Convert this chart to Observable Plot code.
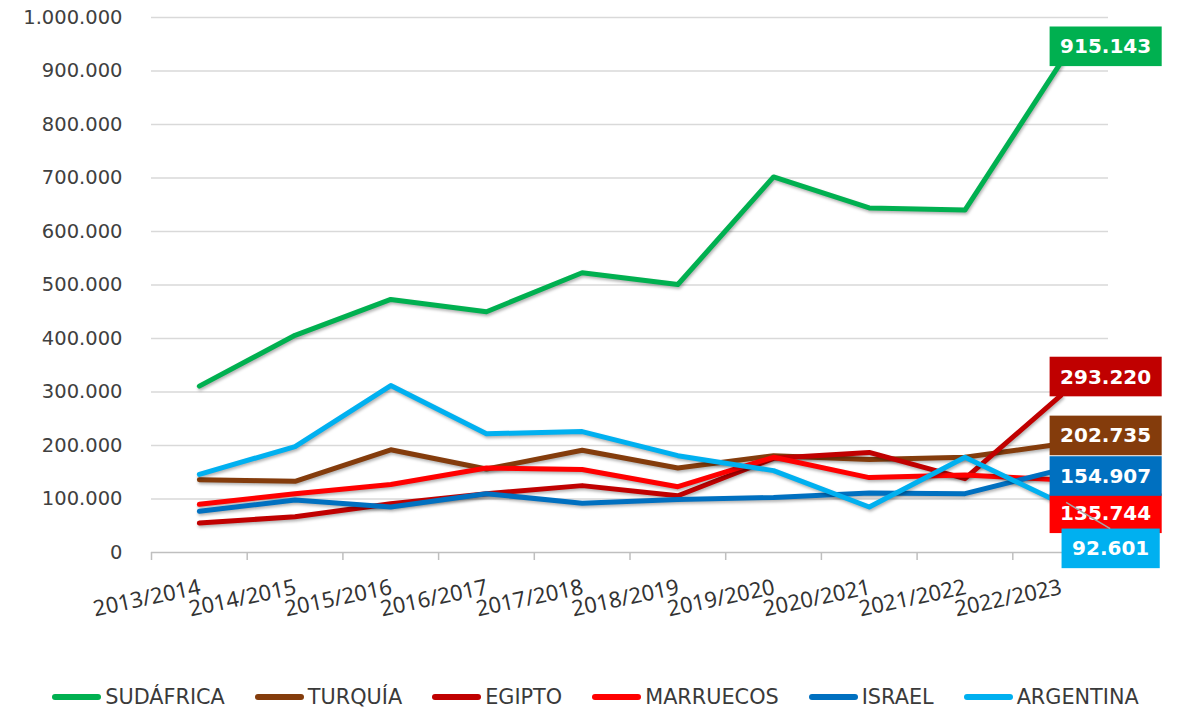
<!DOCTYPE html>
<html>
<head>
<meta charset="utf-8">
<script src="https://cdn.jsdelivr.net/npm/d3@7"></script>
<script src="https://cdn.jsdelivr.net/npm/@observablehq/plot@0.6"></script>
<style>
  html, body { margin: 0; padding: 0; background: #fff; }
  #wrap { position: relative; width: 1182px; height: 710px; overflow: hidden; }
  #legend {
    position: absolute; left: 0; top: 685px; width: 1182px; padding-left: 9px; box-sizing: border-box;
    display: flex; justify-content: center; align-items: center;
    font-family: "DejaVu Sans", sans-serif; font-size: 20.8px; color: #3a3a3a;
  }
  .item { display: flex; align-items: center; margin-right: 30px; }
  .item:last-child { margin-right: 0; }
  .sw { width: 49px; height: 6px; border-radius: 3px; margin-right: 4px; }
  g[aria-label="line"] path { filter: drop-shadow(1px 2px 1.5px rgba(0,0,0,0.3)); }
</style>
</head>
<body>
<div id="wrap"></div>
<script>
// ---- data ----
const categories = ["2013/2014","2014/2015","2015/2016","2016/2017","2017/2018","2018/2019","2019/2020","2020/2021","2021/2022","2022/2023"];
const seriesNames = ["SUDÁFRICA","TURQUÍA","EGIPTO","MARRUECOS","ISRAEL","ARGENTINA"];
const sudafrica = [311000, 406000, 473000, 450000, 523000, 501000, 702000, 644000, 640000, 915143];
const turquia   = [136000, 133000, 192000, 156000, 191000, 158000, 181000, 174000, 178000, 202735];
const egipto    = [55000, 67000, 91000, 110000, 125000, 106000, 176000, 187000, 138000, 293220];
const marruecos = [90000, 110000, 127000, 158000, 155000, 123000, 178000, 140000, 145000, 135744];
const israel    = [77000, 98000, 85000, 110000, 92000, 99000, 103000, 111000, 110000, 154907];
const argentina = [146000, 198000, 312000, 222000, 226000, 181000, 153000, 85000, 178000, 92601];
const yTickValues = [0, 100000, 200000, 300000, 400000, 500000, 600000, 700000, 800000, 900000, 1000000];

// ---- styling ----
const colors = ["#00B050", "#843C0C", "#C00000", "#FF0000", "#0070C0", "#00B0F0"];
const labelOffsets = {
  "SUDÁFRICA": {dx: 45, dy: -16},
  "TURQUÍA":   {dx: 45, dy: -8},
  "EGIPTO":    {dx: 45, dy: -18.5},
  "MARRUECOS": {dx: 45, dy: 34},
  "ISRAEL":    {dx: 45, dy: 7},
  "ARGENTINA": {dx: 50, dy: 46}
};

const valuesList = [sudafrica, turquia, egipto, marruecos, israel, argentina];
const series = seriesNames.map((name, k) => ({name, values: valuesList[k], color: colors[k]}));
const rows = series.flatMap(s => s.values.map((v, i) => ({serie: s.name, i, cat: categories[i], value: v})));
const lastRows = series.map(s => ({serie: s.name, i: categories.length - 1, value: s.values[s.values.length - 1], color: s.color}));

const es = d3.formatLocale({decimal: ",", thousands: ".", grouping: [3], currency: ["", "€"]});
const fmt = es.format(",d");
const boundaries = d3.range(categories.length + 1).map(k => k - 0.5);

const plot = Plot.plot({
  width: 1182,
  height: 640,
  marginLeft: 151,
  marginRight: 74,
  marginTop: 17,
  marginBottom: 88,
  style: {fontFamily: "DejaVu Sans, sans-serif", fontSize: "19.5px", color: "#404040", background: "white", overflow: "visible"},
  x: {type: "linear", domain: [-0.5, categories.length - 0.5], axis: null},
  y: {domain: [0, 1000000], axis: null},
  color: {domain: seriesNames, range: colors},
  marks: [
    Plot.gridY(yTickValues.filter(d => d > 0), {stroke: "#d9d9d9", strokeOpacity: 1, strokeWidth: 1.5}),
    Plot.axisY({ticks: yTickValues, tickSize: 0, tickPadding: 29, tickFormat: fmt, fontSize: 19.5, fill: "#404040", label: null}),
    Plot.axisX({ticks: boundaries, tickSize: 8, tickFormat: () => "", stroke: "#bfbfbf", strokeWidth: 1.5, label: null}),
    Plot.ruleY([0], {stroke: "#bfbfbf", strokeWidth: 1.5}),
    Plot.text(categories, {x: (d, i) => i, frameAnchor: "bottom", text: d => d, dy: 26, dx: -1, rotate: -12,
      textAnchor: "end", lineAnchor: "top", fontSize: 22, fontFamily: "Noto Sans", fill: "#333333"}),
    Plot.line(rows, {x: "i", y: "value", z: "serie", stroke: "serie", strokeWidth: 5, strokeLinejoin: "round", strokeLinecap: "round"}),
    ...lastRows.map(r => Plot.text([r], {x: "i", y: "value", text: d => fmt(d.value),
      dx: labelOffsets[r.serie].dx, dy: labelOffsets[r.serie].dy,
      fill: "white", fontWeight: "bold", fontSize: 20, fontFamily: "DejaVu Sans",
      textAnchor: "middle", lineAnchor: "middle", ariaDescription: "value-label"}))
  ]
});

const wrap = document.getElementById("wrap");
wrap.appendChild(plot);

// boxes behind value labels
const groups = plot.querySelectorAll('g[aria-description="value-label"]');
const ns = "http://www.w3.org/2000/svg";
groups.forEach((g, k) => {
  const r = lastRows[k];
  g.querySelectorAll("text").forEach(t => {
    const bb = t.getBBox();
    const rect = document.createElementNS(ns, "rect");
    const padX = 10.5, padY = 7.8;
    rect.setAttribute("x", bb.x - padX);
    rect.setAttribute("y", bb.y - padY);
    rect.setAttribute("width", bb.width + 2 * padX);
    rect.setAttribute("height", bb.height + 2 * padY);
    rect.setAttribute("fill", r.color);
    if (t.getAttribute("transform")) rect.setAttribute("transform", t.getAttribute("transform"));
    t.parentNode.insertBefore(rect, t);
  });
});

// leader line for ARGENTINA label
const xs = plot.scale("x"), ys = plot.scale("y");
const arg = lastRows[lastRows.length - 1];
const off = labelOffsets[arg.serie];
const px = xs.apply(arg.i), py = ys.apply(arg.value);
const lastG = groups[groups.length - 1];
const bbA = lastG ? lastG.querySelector("rect").getBBox() : null;
if (bbA) {
  const line = document.createElementNS(ns, "line");
  line.setAttribute("x1", px + 6);
  line.setAttribute("y1", py);
  line.setAttribute("x2", px + off.dx);
  line.setAttribute("y2", py + off.dy - bbA.height / 2);
  line.setAttribute("stroke", "#a6a6a6");
  line.setAttribute("stroke-width", 1.5);
  plot.appendChild(line);
}

// legend
const legend = document.createElement("div");
legend.id = "legend";
series.forEach(s => {
  const it = document.createElement("div");
  it.className = "item";
  it.innerHTML = `<div class="sw" style="background:${s.color}"></div><span>${s.name}</span>`;
  legend.appendChild(it);
});
wrap.appendChild(legend);
</script>
</body>
</html>
